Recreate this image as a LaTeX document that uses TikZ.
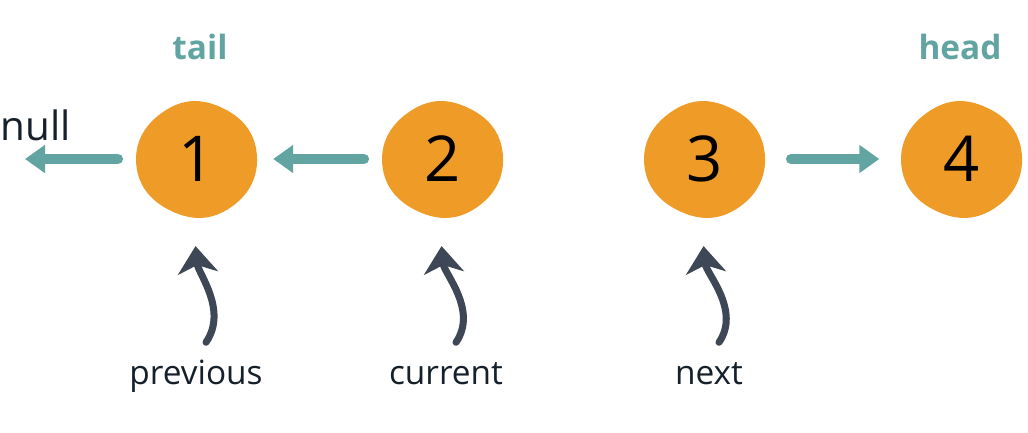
\documentclass[tikz,border=0pt]{standalone}
\usepackage{fontspec}
\setmainfont{Open Sans}
\usepackage{tikz}
\usetikzlibrary{positioning,arrows.meta,backgrounds}
\definecolor{blobOrange}{HTML}{EE9B27}
\definecolor{linkTeal}{HTML}{62A4A1}
\definecolor{ptrSlate}{HTML}{3E4756}
\definecolor{txtDark}{HTML}{15202A}
\tikzset{
  listnode/.style={circle, minimum size=1.17cm, inner sep=0pt, font=\fontsize{18}{18}\selectfont},
  linkarrow/.style={linkTeal, line width=3pt, line cap=round, -{Triangle[length=0.2cm,width=0.27cm]}},
  ptrarrow/.style={ptrSlate, line width=2pt, line cap=round, -{Stealth[length=0.27cm,width=0.4cm,inset=0.08cm]}},
  ptrlabel/.style={font=\fontsize{9.5}{10}\selectfont, text=txtDark, text height=1.6ex, text depth=.45ex},
  endlabel/.style={font=\bfseries\fontsize{9.5}{10}\selectfont, text=linkTeal},
}

\begin{document}
\begin{tikzpicture}
\useasboundingbox (0,0) rectangle (10.28,4.32);

% list nodes
\foreach \x/\n in {1.97/1,4.43/2,7.05/3,9.62/4}
\node[listnode] (n\n) at (\x,2.73) {\n};

% orange blobs behind the numbers
\begin{scope}[on background layer]
\foreach \n in {1,...,4}
\fill[blobOrange, shift={(n\n)}] plot[smooth cycle, tension=0.8] coordinates
  {(5:0.60) (65:0.57) (125:0.58) (185:0.61) (245:0.58) (305:0.59)};
\end{scope}

% tail, head and null
\node[endlabel] (tail) at (2.0,3.85) {tail};
\node[endlabel] (head) at (9.6,3.85) {head};
\node[font=\fontsize{11.5}{12}\selectfont, text=txtDark] (null) at (0.36,3.07) {null};
\coordinate (nullend) at (0.25,2.73);

% links
\draw[linkarrow, shorten <=0.2cm] (n1) -- (nullend);
\draw[linkarrow, shorten <=0.2cm, shorten >=0.17cm] (n2) -- (n1);
\draw[linkarrow, shorten <=0.27cm, shorten >=0.235cm] (n3) -- (n4);

% pointer labels
\foreach \x/\name/\txt in {1.96/prev/previous, 4.46/curr/current, 7.09/nxt/next}
\node[ptrlabel] (\name) at (\x,0.58) {\txt};

% pointers
\foreach \name/\n in {prev/1,curr/2,nxt/3}
\draw[ptrarrow, shorten >=0.28cm] ([xshift=0.1cm]\name.north)
  .. controls +(0.22,0.32) and +(0.05,-0.55) .. ([xshift=-0.04cm]n\n.south);
\end{tikzpicture}
\end{document}
